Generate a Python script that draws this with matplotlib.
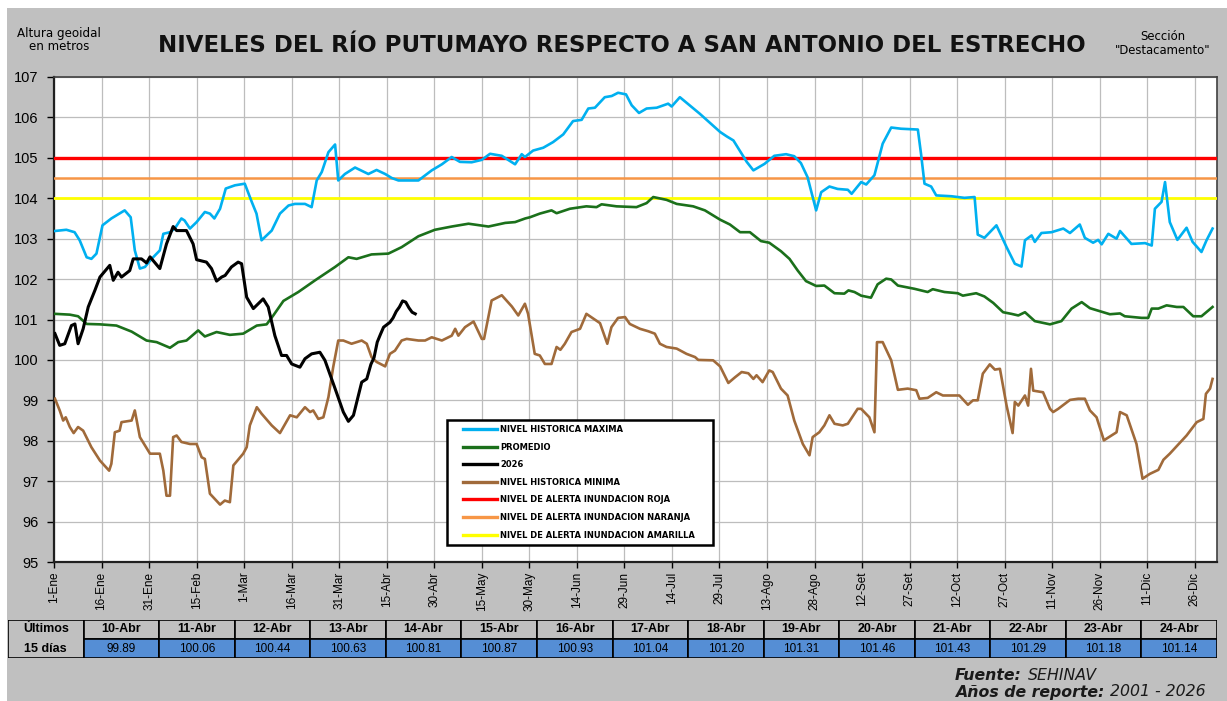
import matplotlib
matplotlib.use("Agg")
import matplotlib.pyplot as plt
from matplotlib.patches import Rectangle

plt.rcParams['font.family'] = ['Liberation Sans', 'DejaVu Sans']

W, H = 1227, 701

# x tick labels, one every 15 days of a leap year
tick_days = list(range(0, 361, 15))
tick_labels = ["1-Ene", "16-Ene", "31-Ene", "15-Feb", "1-Mar", "16-Mar", "31-Mar",
               "15-Abr", "30-Abr", "15-May", "30-May", "14-Jun", "29-Jun", "14-Jul",
               "29-Jul", "13-Ago", "28-Ago", "12-Set", "27-Set", "12-Oct", "27-Oct",
               "11-Nov", "26-Nov", "11-Dic", "26-Dic"]

# historical maximum
max_days = [0.3, 3.9, 6.5, 8.1, 10.3, 11.8, 13.4, 15.3, 18.1, 22.3, 24.2, 25.5, 27.1, 28.7,
            30.8, 33.4, 34.5, 36.6, 38.1, 40.2, 41.2, 42.9, 45.0, 47.6, 49.2, 50.6, 52.4,
            54.2, 57.1, 60.2, 62.4, 63.9, 65.5, 68.7, 71.3, 74.0, 76.0, 79.2, 81.3, 82.9,
            84.5, 86.6, 88.7, 89.7, 91.8, 95.0, 99.2, 101.8, 104.5, 106.6, 108.7, 115.0,
            119.2, 122.4, 125.5, 128.1, 131.8, 135.0, 137.6, 141.3, 145.5, 147.6, 148.6,
            151.2, 154.4, 157.5, 160.7, 163.8, 166.5, 168.6, 170.7, 173.8, 176.0, 178.0,
            180.5, 182.3, 184.6, 187.0, 190.2, 193.8, 194.9, 197.5, 203.8, 210.2, 212.3,
            214.4, 218.6, 220.7, 224.2, 227.3, 231.0, 233.6, 235.7, 237.8, 239.4, 240.5,
            242.1, 244.7, 247.3, 250.5, 251.7, 254.7, 256.3, 258.9, 261.5, 264.2, 267.3,
            272.6, 273.6, 274.7, 276.8, 278.4, 283.1, 287.3, 290.5, 291.5, 293.6, 297.4,
            300.6, 303.2, 305.3, 306.4, 308.5, 309.5, 311.6, 314.8, 318.5, 320.6, 323.7,
            325.3, 327.9, 329.5, 330.6, 332.7, 335.3, 336.4, 340.0, 344.3, 346.4, 347.4,
            349.5, 350.6, 352.1, 354.5, 357.4, 359.3, 362.1, 363.7, 365.6]
max_vals = [103.19, 103.22, 103.16, 102.96, 102.54, 102.50, 102.63, 103.33, 103.50, 103.70,
            103.53, 102.71, 102.26, 102.30, 102.50, 102.71, 103.12, 103.16, 103.25, 103.50,
            103.45, 103.25, 103.41, 103.66, 103.62, 103.50, 103.74, 104.24, 104.32, 104.36,
            103.91, 103.62, 102.96, 103.20, 103.62, 103.82, 103.86, 103.86, 103.78, 104.44,
            104.65, 105.14, 105.33, 104.44, 104.60, 104.76, 104.60, 104.70, 104.60, 104.50,
            104.44, 104.44, 104.69, 104.84, 105.02, 104.90, 104.89, 104.95, 105.10, 105.05,
            104.84, 105.09, 105.02, 105.18, 105.25, 105.39, 105.58, 105.91, 105.94, 106.22,
            106.24, 106.50, 106.53, 106.61, 106.57, 106.30, 106.11, 106.22, 106.24, 106.34,
            106.27, 106.50, 106.09, 105.64, 105.53, 105.43, 104.90, 104.69, 104.85, 105.05,
            105.09, 105.04, 104.87, 104.52, 104.03, 103.70, 104.15, 104.29, 104.23, 104.21,
            104.11, 104.40, 104.34, 104.57, 105.35, 105.75, 105.72, 105.70, 105.10, 104.36,
            104.29, 104.07, 104.05, 104.01, 104.03, 103.10, 103.02, 103.33, 102.79, 102.38,
            102.31, 102.96, 103.08, 102.92, 103.14, 103.16, 103.25, 103.14, 103.35, 103.02,
            102.90, 102.97, 102.86, 103.12, 103.00, 103.19, 102.87, 102.89, 102.83, 103.74,
            103.91, 104.40, 103.41, 102.97, 103.27, 102.92, 102.67, 102.96, 103.25]

# average
avg_days = [0.3, 5.0, 7.6, 10.3, 14.5, 19.7, 24.5, 29.2, 32.4, 36.6, 39.2, 41.8, 45.5, 47.6,
            51.3, 55.5, 59.7, 64.0, 67.1, 69.2, 72.4, 77.1, 82.4, 88.7, 92.9, 95.5, 100.2,
            105.5, 109.7, 115.0, 120.2, 125.5, 130.8, 137.1, 142.4, 145.5, 148.7, 150.2,
            153.3, 157.0, 158.6, 162.8, 168.0, 171.2, 172.8, 177.5, 183.8, 187.0, 189.1,
            193.3, 196.5, 201.7, 205.4, 210.2, 213.3, 216.5, 219.6, 223.1, 225.7, 229.4,
            232.1, 234.7, 237.3, 240.5, 243.1, 246.3, 249.4, 250.7, 252.6, 254.7, 257.8,
            259.9, 262.6, 264.2, 266.3, 271.5, 275.7, 277.3, 281.0, 285.2, 286.8, 291.0,
            293.6, 296.4, 299.5, 302.1, 304.3, 306.4, 309.5, 314.3, 317.9, 321.1, 324.3,
            326.9, 333.2, 336.4, 337.9, 343.2, 345.3, 346.4, 348.5, 351.1, 354.3, 356.4,
            359.5, 362.1, 365.6]
avg_vals = [101.14, 101.12, 101.08, 100.89, 100.88, 100.85, 100.70, 100.48, 100.44, 100.30,
            100.44, 100.48, 100.73, 100.58, 100.69, 100.62, 100.65, 100.85, 100.88, 101.10,
            101.46, 101.68, 101.97, 102.30, 102.54, 102.50, 102.61, 102.63, 102.79, 103.06,
            103.22, 103.30, 103.37, 103.30, 103.39, 103.41, 103.50, 103.53, 103.62, 103.70,
            103.63, 103.74, 103.80, 103.78, 103.85, 103.80, 103.78, 103.88, 104.03, 103.96,
            103.86, 103.80, 103.70, 103.47, 103.35, 103.16, 103.16, 102.94, 102.90, 102.69,
            102.50, 102.21, 101.95, 101.83, 101.84, 101.65, 101.64, 101.72, 101.68, 101.59,
            101.54, 101.87, 102.01, 101.99, 101.84, 101.76, 101.68, 101.75, 101.68, 101.65,
            101.59, 101.65, 101.57, 101.41, 101.18, 101.14, 101.10, 101.18, 100.96, 100.88,
            100.96, 101.27, 101.43, 101.28, 101.13, 101.15, 101.08, 101.04, 101.04, 101.27,
            101.27, 101.35, 101.31, 101.31, 101.08, 101.08, 101.31]

# 2026
y26_days = [0.3, 1.8, 3.4, 5.5, 6.6, 7.6, 9.2, 10.8, 12.9, 14.5, 17.6, 18.7, 20.2, 21.3,
            23.9, 25.0, 27.6, 29.2, 30.3, 33.4, 35.5, 37.6, 38.7, 41.8, 43.9, 45.0, 48.1,
            49.7, 51.3, 52.9, 54.0, 56.0, 58.1, 59.2, 60.8, 62.9, 66.0, 67.6, 69.7, 71.8,
            73.4, 75.0, 77.6, 79.2, 81.3, 83.9, 85.5, 88.7, 91.3, 92.9, 94.5, 97.1, 98.7,
            100, 101, 102, 103, 104, 105, 106, 107, 108, 109, 110, 111, 112, 113, 114]
y26_vals = [100.65, 100.36, 100.40, 100.85, 100.89, 100.40, 100.77, 101.31, 101.72, 102.05,
            102.34, 101.97, 102.17, 102.05, 102.21, 102.50, 102.50, 102.40, 102.55, 102.26,
            102.87, 103.30, 103.20, 103.20, 102.87, 102.48, 102.42, 102.26, 101.95, 102.05,
            102.09, 102.30, 102.42, 102.38, 101.55, 101.27, 101.51, 101.31, 100.60, 100.11,
            100.11, 99.90, 99.82, 100.03, 100.15, 100.19, 99.99, 99.29, 98.71, 98.48, 98.63,
            99.45, 99.53,
            99.89, 100.06, 100.44, 100.63, 100.81, 100.87, 100.93, 101.04, 101.20, 101.31,
            101.46, 101.43, 101.29, 101.18, 101.14]

# historical minimum
min_days = [0.3, 1.8, 2.9, 3.7, 5.0, 6.2, 7.6, 9.2, 11.8, 14.5, 17.4, 18.1, 19.2, 20.7,
            21.3, 24.5, 25.5, 27.1, 30.3, 33.4, 34.5, 35.5, 36.6, 37.6, 38.7, 40.2, 42.9,
            45.0, 46.6, 47.6, 49.2, 52.4, 53.9, 55.5, 56.6, 59.7, 60.8, 61.8, 64.0, 65.5,
            68.7, 71.3, 74.5, 76.6, 79.2, 80.8, 81.8, 83.4, 85.0, 86.6, 88.1, 89.7, 91.3,
            93.9, 95.5, 97.1, 98.7, 100.2, 101.8, 104.5, 106.0, 107.6, 109.7, 111.3, 115.0,
            117.1, 119.2, 122.4, 125.5, 126.6, 127.6, 129.7, 132.4, 135.0, 135.7, 138.1,
            141.3, 144.5, 146.5, 148.6, 149.6, 151.7, 153.3, 154.9, 157.0, 158.6, 159.8,
            161.2, 163.3, 166.0, 168.0, 172.3, 174.6, 175.9, 178.0, 180.2, 181.7, 184.9,
            187.5, 189.6, 191.2, 193.3, 196.5, 199.6, 202.3, 203.3, 208.0, 210.2, 212.8,
            214.9, 217.0, 219.1, 220.7, 221.7, 223.6, 225.7, 226.8, 229.4, 231.5, 233.6,
            236.3, 238.4, 239.4, 241.5, 243.1, 244.7, 246.3, 248.9, 250.5, 253.6, 254.7,
            257.3, 258.9, 259.7, 261.5, 264.2, 266.3, 269.4, 272.1, 273.1, 275.7, 278.4,
            280.5, 285.7, 288.4, 290.0, 291.5, 293.1, 295.3, 296.9, 298.5, 300.6, 302.5,
            303.2, 304.3, 306.4, 307.4, 308.3, 309.0, 312.1, 314.3, 315.3, 316.9, 320.6,
            323.2, 325.3, 326.9, 329.0, 331.3, 335.3, 336.4, 338.5, 341.6, 343.5, 345.8,
            348.5, 350.1, 352.1, 357.4, 360.6, 362.7, 363.5, 364.8, 365.6]
min_vals = [99.04, 98.75, 98.50, 98.58, 98.34, 98.19, 98.34, 98.25, 97.84, 97.51, 97.26,
            97.43, 98.21, 98.25, 98.46, 98.50, 98.75, 98.09, 97.68, 97.68, 97.26, 96.64,
            96.64, 98.09, 98.13, 97.97, 97.92, 97.92, 97.59, 97.55, 96.69, 96.42, 96.52,
            96.48, 97.39, 97.68, 97.84, 98.38, 98.83, 98.67, 98.38, 98.19, 98.63, 98.58,
            98.83, 98.71, 98.75, 98.54, 98.58, 99.08, 99.82, 100.48, 100.48, 100.40,
            100.44, 100.48, 100.40, 100.07, 99.95, 99.84, 100.15, 100.23, 100.48, 100.52,
            100.48, 100.48, 100.56, 100.48, 100.60, 100.77, 100.60, 100.81, 100.95, 100.52,
            100.52, 101.47, 101.60, 101.32, 101.10, 101.39, 101.14, 100.15, 100.11, 99.90,
            99.90, 100.32, 100.25, 100.40, 100.69, 100.77, 101.14, 100.91, 100.40, 100.81,
            101.04, 101.06, 100.89, 100.77, 100.71, 100.65, 100.40, 100.32, 100.28, 100.15,
            100.07, 100.00, 99.99, 99.84, 99.43, 99.57, 99.70, 99.67, 99.53, 99.62, 99.45,
            99.74, 99.70, 99.29, 99.12, 98.50, 97.92, 97.64, 98.09, 98.21, 98.38, 98.63,
            98.42, 98.38, 98.42, 98.79, 98.79, 98.58, 98.21, 100.44, 100.44, 99.99, 99.26,
            99.29, 99.25, 99.04, 99.06, 99.20, 99.12, 99.12, 98.89, 99.00, 99.00, 99.66,
            99.89, 99.76, 99.78, 98.87, 98.19, 98.96, 98.87, 99.12, 98.87, 99.78, 99.24,
            99.20, 98.79, 98.71, 98.79, 99.01, 99.04, 99.04, 98.75, 98.58, 98.01, 98.21,
            98.71, 98.63, 97.92, 97.06, 97.18, 97.28, 97.53, 97.68, 98.13, 98.46, 98.54,
            99.16, 99.29, 99.53]

# alert levels
alert_red = 105.0
alert_orange = 104.5
alert_yellow = 104.0

# last 15 days table
table_dates = ["10-Abr", "11-Abr", "12-Abr", "13-Abr", "14-Abr", "15-Abr", "16-Abr", "17-Abr",
               "18-Abr", "19-Abr", "20-Abr", "21-Abr", "22-Abr", "23-Abr", "24-Abr"]
table_vals = [99.89, 100.06, 100.44, 100.63, 100.81, 100.87, 100.93, 101.04,
              101.20, 101.31, 101.46, 101.43, 101.29, 101.18, 101.14]

GREY = '#c0c0c0'


def px_axes(fig, x, y, w, h):
    # axes placed in pixel coordinates, y measured from the top
    return fig.add_axes([x / W, 1 - (y + h) / H, w / W, h / H])


fig = plt.figure(figsize=(W / 100, H / 100), dpi=100, facecolor='white')
fig.patches.append(Rectangle((7 / W, 0), 1, 1 - 8 / H, transform=fig.transFigure,
                             facecolor=GREY, edgecolor='none', zorder=-10))

ax = px_axes(fig, 54, 77, 1163, 485)
ax.set_facecolor('white')

ax.axhline(alert_red, color='#ff0000', lw=2.4, zorder=3)
ax.axhline(alert_orange, color='#f79646', lw=1.8, zorder=3)
ax.axhline(alert_yellow, color='#ffff00', lw=2.0, zorder=3)

ax.plot(max_days, max_vals, color='#00b0f0', lw=1.9, zorder=4)
ax.plot(avg_days, avg_vals, color='#1b701b', lw=1.9, zorder=4)
ax.plot(y26_days, y26_vals, color='black', lw=2.2, zorder=5)
ax.plot(min_days, min_vals, color='#a06a3a', lw=1.9, zorder=4)

ax.set_xlim(0, 367)
ax.set_ylim(95, 107)
ax.set_yticks(range(95, 108))
ax.set_xticks(tick_days)
ax.set_xticklabels(tick_labels, rotation=90, fontsize=8.5)
ax.tick_params(axis='y', labelsize=10.5, length=5, width=1, pad=6, direction='out')
ax.tick_params(axis='x', length=4, width=1, pad=3, direction='out')
ax.grid(True, color='#bdbdbd', lw=0.9, zorder=0)
ax.set_axisbelow(True)
for side in ['left', 'bottom']:
    ax.spines[side].set_linewidth(1.6)
    ax.spines[side].set_color('#202020')
for side in ['top', 'right']:
    ax.spines[side].set_linewidth(1.2)
    ax.spines[side].set_color('#404040')

# legend: frame drawn separately so the handles can sit inset like the original
box = Rectangle((447 / W, 1 - 545 / H), 266 / W, 125 / H, transform=fig.transFigure,
                facecolor='white', edgecolor='black', lw=1.8, zorder=9, clip_on=False)
ax.add_artist(box)
names = ["NIVEL HISTORICA MAXIMA", "PROMEDIO", "2026", "NIVEL HISTORICA MINIMA",
         "NIVEL DE ALERTA INUNDACION ROJA", "NIVEL DE ALERTA INUNDACION NARANJA",
         "NIVEL DE ALERTA INUNDACION AMARILLA"]
colors = ['#00b0f0', '#1b701b', 'black', '#a06a3a', '#ff0000', '#f79646', '#ffff00']
handles = [plt.Line2D([], [], color=c, lw=2.4) for c in colors]
leg = ax.legend(handles, names, loc='upper left',
                bbox_to_anchor=((463 - 54) / 1163, (562 - 425) / 485),
                prop={'size': 6, 'weight': 'bold', 'family': 'DejaVu Sans'},
                frameon=False, handlelength=4.1, handletextpad=0.35, labelspacing=1.03,
                borderpad=0, borderaxespad=0)
leg.set_zorder(10)

# titles
fig.text(622 / W, 1 - 46 / H, "NIVELES DEL RÍO PUTUMAYO RESPECTO A SAN ANTONIO DEL ESTRECHO",
         ha='center', va='center', fontsize=16.5, fontweight='bold', color='#111111',
         family='DejaVu Sans')
fig.text(59 / W, 1 - 40 / H, "Altura geoidal\nen metros", ha='center', va='center',
         fontsize=8.6, linespacing=1.1, family='DejaVu Sans')
fig.text(1163 / W, 1 - 43 / H, "Sección\n\"Destacamento\"", ha='center', va='center',
         fontsize=8.4, linespacing=1.1, family='DejaVu Sans')

# table of the last 15 days
tax = px_axes(fig, 8, 620, 1209, 38)
tax.set_xlim(0, 16)
tax.set_ylim(0, 2)
tax.axis('off')
tax.add_patch(Rectangle((0, 0), 1, 2, facecolor=GREY, edgecolor='black', lw=1.2))
tax.text(0.5, 1.5, "Últimos", ha='center', va='center', fontsize=9, fontweight='bold')
tax.text(0.5, 0.5, "15 días", ha='center', va='center', fontsize=9, fontweight='bold')
for i, (d, v) in enumerate(zip(table_dates, table_vals)):
    tax.add_patch(Rectangle((i + 1, 1), 1, 1, facecolor=GREY, edgecolor='black', lw=1.2))
    tax.add_patch(Rectangle((i + 1, 0), 1, 1, facecolor='#558ed5', edgecolor='black', lw=1.2))
    tax.text(i + 1.5, 1.5, d, ha='center', va='center', fontsize=9, fontweight='bold')
    tax.text(i + 1.5, 0.5, f"{v:.2f}", ha='center', va='center', fontsize=8.5)

# footer: bold label followed by plain italic value
renderer = fig.canvas.get_renderer()
for ypix, label, value in [(675, "Fuente:", "SEHINAV"),
                           (692, "Años de reporte:", "2001 - 2026")]:
    t = fig.text(955 / W, 1 - ypix / H, label, ha='left', va='center', fontsize=11.3,
                 fontweight='bold', style='italic', color='#1a1a1a', family='DejaVu Sans')
    x_end = t.get_window_extent(renderer).x1
    fig.text((x_end + 6) / W, 1 - ypix / H, value, ha='left', va='center', fontsize=11.3,
             style='italic', color='#1a1a1a', family='DejaVu Sans')

fig.savefig("out.png", dpi=100, facecolor=fig.get_facecolor())
